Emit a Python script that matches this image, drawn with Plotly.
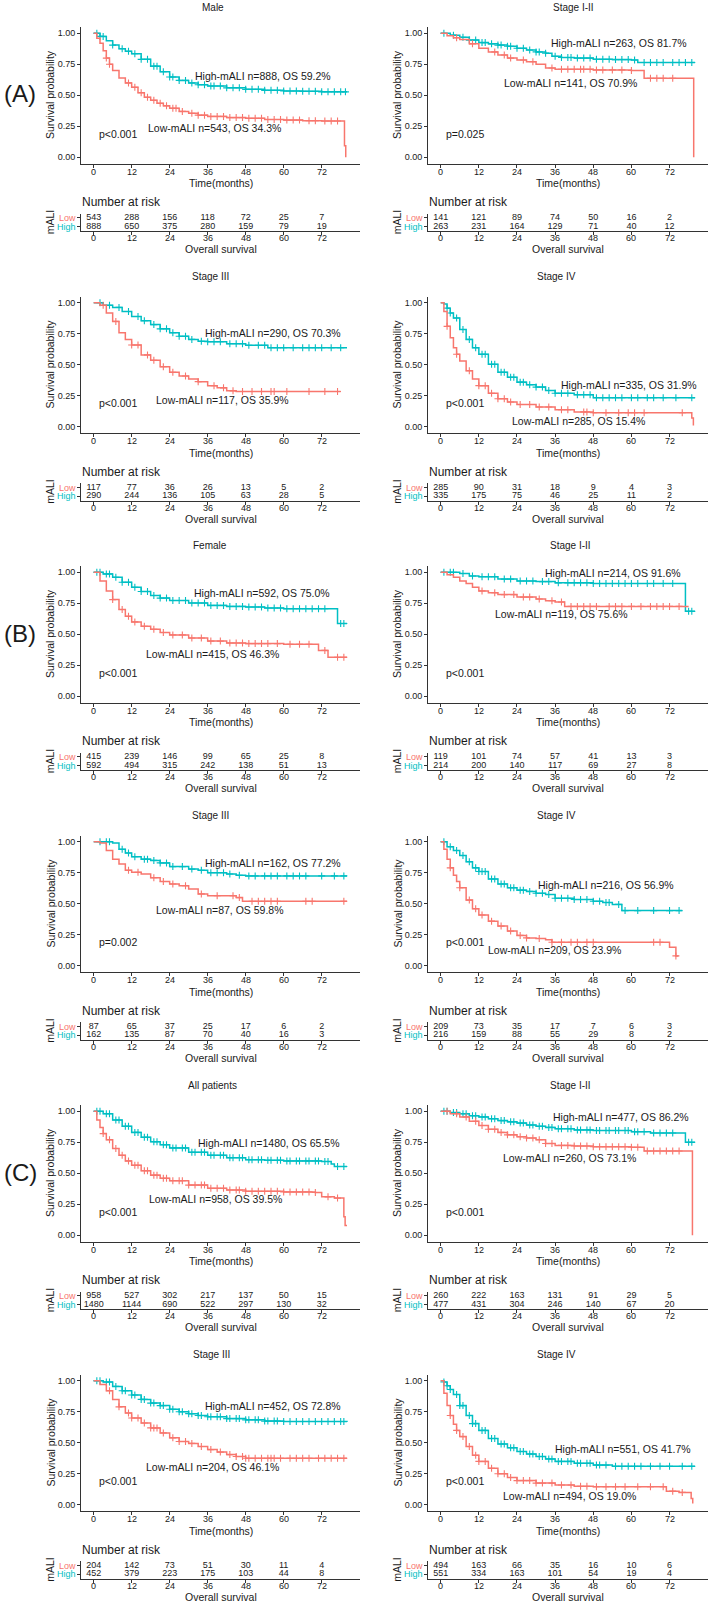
import plotly.graph_objects as go

W, H = 709, 1604
ROW_H = 269.5
RED = '#F8766D'
TEAL = '#00BFC4'
TXT = '#1a1a1a'
FONT = 'Liberation Sans, Arial, sans-serif'
XR = [-4.0, 84.1]
TICK_T = [0, 12, 24, 36, 48, 60, 72]
Y_TICKS = [0, 0.25, 0.5, 0.75, 1.0]
Y_TICKTEXT = ['0.00', '0.25', '0.50', '0.75', '1.00']

# ---------------- (A) Male ----------------
male_high_t = [0, 2, 4, 6, 8, 10, 12, 15, 18, 21, 24, 27, 30, 33, 36, 42, 48, 54, 60, 66, 72, 80]
male_high_s = [1.0, 0.975, 0.94, 0.905, 0.875, 0.855, 0.835, 0.79, 0.735, 0.69, 0.648, 0.62, 0.60, 0.585, 0.575, 0.56, 0.548, 0.54, 0.535, 0.532, 0.528, 0.528]
male_high_c = [1, 2, 3, 6, 9, 11, 13, 15, 17, 19, 20, 22, 24, 25, 27, 29, 31, 33, 35, 37, 38, 40, 42, 44, 46, 48, 50, 52, 54, 56, 58, 60, 62, 64, 66, 68, 70, 72, 74, 76, 78, 79.5]
male_low_t = [0, 1, 2, 3, 4, 5, 6, 8, 10, 12, 14, 16, 18, 20, 22, 24, 27, 30, 33, 36, 42, 48, 54, 60, 66, 72, 79.2, 79.6]
male_low_s = [1.0, 0.96, 0.92, 0.86, 0.80, 0.75, 0.70, 0.64, 0.60, 0.565, 0.52, 0.484, 0.46, 0.435, 0.415, 0.395, 0.37, 0.355, 0.34, 0.33, 0.32, 0.315, 0.305, 0.30, 0.295, 0.293, 0.094, 0.0]
male_low_c = [4, 5, 11, 13, 15, 17, 19, 21, 23, 25, 26, 28, 31, 33, 35, 37, 39, 41, 43, 45, 47, 49, 51, 53, 55, 57, 59, 61, 63, 65, 68, 70, 73, 75, 77]
male_risk_low = [543, 288, 156, 118, 72, 25, 7]
male_risk_high = [888, 650, 375, 280, 159, 79, 19]

# ---------------- (A) Stage I-II ----------------
s12a_high_t = [0, 3, 6, 9, 12, 15, 18, 21, 24, 27, 30, 33, 35, 38, 42, 48, 54, 60, 62, 72, 80]
s12a_high_s = [1.0, 0.985, 0.968, 0.945, 0.925, 0.915, 0.905, 0.895, 0.88, 0.865, 0.85, 0.84, 0.815, 0.805, 0.80, 0.79, 0.788, 0.785, 0.765, 0.765, 0.765]
s12a_high_c = [1, 4, 7, 9, 11, 13, 14, 16, 18, 19, 21, 22, 24, 26, 28, 30, 31, 33, 36, 38, 40, 41, 43, 45, 47, 49, 51, 53, 55, 57, 59, 61, 64, 66, 68, 70, 73, 75, 77, 79]
s12a_low_t = [0, 2, 4, 6, 9, 12, 15, 18, 21, 24, 27, 30, 33, 36, 48, 60, 64, 79.6]
s12a_low_s = [1.0, 0.98, 0.965, 0.95, 0.915, 0.88, 0.85, 0.825, 0.80, 0.785, 0.77, 0.75, 0.72, 0.71, 0.705, 0.70, 0.637, 0.0]
s12a_low_c = [5, 10, 17, 20, 22, 26, 29, 35, 38, 40, 42, 44, 45, 47, 49, 51, 54, 57, 60, 66, 68, 70, 73]
s12a_risk_low = [141, 121, 89, 74, 50, 16, 2]
s12a_risk_high = [263, 231, 164, 129, 71, 40, 12]

# ---------------- (A) Stage III ----------------
s3a_high_t = [0, 3, 6, 9, 12, 15, 18, 21, 24, 27, 30, 33, 36, 42, 48, 55, 80]
s3a_high_s = [1.0, 0.98, 0.963, 0.93, 0.89, 0.855, 0.824, 0.79, 0.758, 0.73, 0.705, 0.69, 0.686, 0.67, 0.657, 0.638, 0.638]
s3a_high_c = [2, 5, 8, 11, 14, 16, 19, 21, 23, 25, 27, 29, 31, 34, 36, 38, 40, 43, 45, 47, 49, 52, 54, 56, 58, 60, 63, 66, 68, 70, 72, 75, 78]
s3a_low_t = [0, 2, 4, 6, 8, 10, 12, 15, 18, 21, 24, 27, 30, 33, 36, 39, 42, 45, 78]
s3a_low_s = [1.0, 0.98, 0.918, 0.85, 0.758, 0.705, 0.66, 0.58, 0.537, 0.484, 0.44, 0.41, 0.386, 0.364, 0.332, 0.314, 0.29, 0.285, 0.285]
s3a_low_c = [3, 7, 12, 14, 17, 19, 22, 25, 29, 33, 38, 41, 44, 47, 50, 53, 56, 57, 61, 68, 73, 77]
s3a_risk_low = [117, 77, 36, 26, 13, 5, 2]
s3a_risk_high = [290, 244, 136, 105, 63, 28, 5]

# ---------------- (A) Stage IV ----------------
s4a_high_t = [0, 1, 2, 3, 4, 6, 8, 10, 12, 15, 18, 21, 24, 27, 30, 33, 36, 42, 48, 80]
s4a_high_s = [1.0, 0.99, 0.957, 0.918, 0.878, 0.785, 0.705, 0.638, 0.585, 0.505, 0.44, 0.40, 0.36, 0.34, 0.32, 0.293, 0.27, 0.258, 0.234, 0.234]
s4a_high_c = [2, 3, 5, 7, 9, 11, 13, 14, 16, 17, 19, 20, 22, 23, 25, 26, 28, 30, 32, 34, 36, 38, 40, 43, 45, 47, 49, 51, 53, 55, 57, 60, 62, 65, 67, 70, 74, 79]
s4a_low_t = [0, 1, 2, 3, 4, 5, 6, 8, 10, 12, 15, 18, 21, 24, 30, 36, 42, 48, 79.0, 79.5]
s4a_low_s = [1.0, 0.93, 0.81, 0.718, 0.638, 0.585, 0.53, 0.452, 0.386, 0.332, 0.27, 0.226, 0.20, 0.18, 0.16, 0.138, 0.12, 0.114, 0.07, 0.01]
s4a_low_c = [2, 5, 9, 12, 14, 16, 18, 20, 22, 25, 28, 31, 34, 38, 40, 45, 46, 48, 52, 56, 59, 61, 64, 76]
s4a_risk_low = [285, 90, 31, 18, 9, 4, 3]
s4a_risk_high = [335, 175, 75, 46, 25, 11, 2]

# ---------------- (B) Female ----------------
fem_high_t = [0, 3, 6, 9, 12, 15, 18, 21, 24, 30, 36, 42, 48, 54, 60, 77, 80]
fem_high_s = [1.0, 0.987, 0.96, 0.92, 0.88, 0.845, 0.813, 0.792, 0.773, 0.752, 0.733, 0.725, 0.72, 0.712, 0.707, 0.587, 0.587]
fem_high_c = [1, 2, 4, 5, 7, 9, 11, 13, 15, 17, 19, 21, 23, 25, 27, 29, 31, 33, 35, 37, 39, 41, 43, 45, 47, 49, 51, 53, 55, 57, 59, 61, 63, 65, 67, 69, 71, 73, 78, 79]
fem_low_t = [0, 2, 4, 6, 8, 10, 12, 15, 18, 21, 24, 30, 36, 42, 48, 60, 71, 74, 80]
fem_low_s = [1.0, 0.93, 0.85, 0.78, 0.70, 0.645, 0.60, 0.565, 0.54, 0.515, 0.495, 0.47, 0.445, 0.43, 0.425, 0.42, 0.37, 0.315, 0.315]
fem_low_c = [6, 9, 11, 13, 16, 19, 22, 25, 28, 31, 34, 37, 40, 43, 45, 47, 49, 51, 53, 55, 58, 62, 65, 68, 73, 77, 79]
fem_risk_low = [415, 239, 146, 99, 65, 25, 8]
fem_risk_high = [592, 494, 315, 242, 138, 51, 13]

# ---------------- (B) Stage I-II ----------------
s12b_high_t = [0, 6, 9, 12, 18, 24, 30, 36, 48, 77, 80]
s12b_high_s = [1.0, 0.99, 0.97, 0.965, 0.945, 0.93, 0.925, 0.915, 0.91, 0.685, 0.685]
s12b_high_c = [1, 3, 4, 7, 10, 13, 15, 17, 20, 22, 25, 27, 29, 32, 34, 37, 40, 42, 44, 46, 48, 50, 52, 54, 56, 58, 60, 62, 65, 67, 70, 73, 78, 79]
s12b_low_t = [0, 2, 4, 6, 8, 10, 12, 15, 18, 24, 30, 33, 36, 39, 78]
s12b_low_s = [1.0, 0.98, 0.96, 0.93, 0.91, 0.88, 0.85, 0.835, 0.82, 0.80, 0.785, 0.77, 0.76, 0.725, 0.725]
s12b_low_c = [13, 17, 20, 23, 26, 28, 31, 35, 38, 41, 43, 45, 47, 49, 53, 55, 57, 60, 63, 66, 68, 70, 72, 75]
s12b_risk_low = [119, 101, 74, 57, 41, 13, 3]
s12b_risk_high = [214, 200, 140, 117, 69, 27, 8]

# ---------------- (B) Stage III ----------------
s3b_high_t = [0, 6, 8, 10, 12, 15, 18, 21, 24, 30, 33, 36, 42, 45, 48, 80]
s3b_high_s = [1.0, 0.99, 0.94, 0.91, 0.88, 0.86, 0.85, 0.83, 0.80, 0.78, 0.77, 0.75, 0.74, 0.73, 0.725, 0.725]
s3b_high_c = [2, 4, 5, 9, 11, 13, 16, 17, 19, 21, 23, 25, 28, 31, 34, 37, 39, 41, 43, 46, 49, 51, 54, 56, 58, 61, 63, 65, 67, 72, 76, 79]
s3b_low_t = [0, 2, 4, 6, 8, 10, 12, 15, 18, 21, 24, 27, 30, 33, 36, 45, 47, 80]
s3b_low_s = [1.0, 0.99, 0.93, 0.86, 0.82, 0.77, 0.755, 0.74, 0.71, 0.68, 0.66, 0.645, 0.62, 0.58, 0.565, 0.55, 0.52, 0.52]
s3b_low_c = [11, 14, 19, 22, 25, 29, 34, 39, 44, 46, 50, 52, 54, 56, 58, 67, 69, 79]
s3b_risk_low = [87, 65, 37, 25, 17, 6, 2]
s3b_risk_high = [162, 135, 87, 70, 40, 16, 3]

# ---------------- (B) Stage IV ----------------
s4b_high_t = [0, 2, 4, 6, 8, 10, 12, 15, 18, 21, 24, 27, 30, 33, 36, 42, 48, 51, 54, 57, 76]
s4b_high_s = [1.0, 0.96, 0.93, 0.89, 0.84, 0.79, 0.76, 0.70, 0.66, 0.63, 0.61, 0.60, 0.585, 0.575, 0.545, 0.535, 0.52, 0.51, 0.495, 0.445, 0.445]
s4b_high_c = [1, 3, 5, 7, 9, 11, 12, 13, 14, 16, 17, 19, 20, 22, 23, 25, 26, 28, 30, 32, 34, 36, 38, 40, 42, 44, 46, 48, 50, 52, 53, 56, 58, 62, 67, 72, 75]
s4b_low_t = [0, 1, 2, 3, 4, 5, 6, 8, 10, 12, 15, 18, 21, 24, 27, 30, 33, 35, 72, 74, 74.8]
s4b_low_s = [1.0, 0.94, 0.86, 0.79, 0.73, 0.68, 0.63, 0.53, 0.46, 0.41, 0.36, 0.32, 0.28, 0.245, 0.225, 0.22, 0.21, 0.19, 0.15, 0.08, 0.08]
s4b_low_c = [3, 6, 9, 11, 13, 16, 19, 22, 25, 27, 31, 35, 38, 41, 43, 46, 48, 67, 69, 74]
s4b_risk_low = [209, 73, 35, 17, 7, 6, 3]
s4b_risk_high = [216, 159, 88, 55, 29, 8, 2]

# ---------------- (C) All patients ----------------
all_high_t = [0, 3, 6, 9, 12, 15, 18, 21, 24, 30, 36, 42, 48, 54, 60, 72, 75, 76, 80]
all_high_s = [1.0, 0.98, 0.93, 0.88, 0.83, 0.79, 0.755, 0.73, 0.705, 0.67, 0.645, 0.625, 0.61, 0.605, 0.60, 0.595, 0.575, 0.555, 0.555]
all_high_c = [1, 2, 4, 5, 7, 8, 10, 11, 13, 14, 16, 17, 19, 20, 22, 23, 25, 26, 28, 29, 31, 32, 34, 35, 37, 38, 40, 41, 43, 44, 46, 47, 49, 50, 52, 53, 55, 56, 58, 59, 61, 62, 64, 65, 67, 68, 70, 71, 73, 74, 77, 79]
all_low_t = [0, 1, 2, 3, 4, 6, 8, 10, 12, 15, 18, 21, 24, 30, 36, 42, 48, 60, 70, 72, 76, 79.0, 79.4, 80]
all_low_s = [1.0, 0.93, 0.87, 0.82, 0.77, 0.70, 0.645, 0.60, 0.565, 0.52, 0.485, 0.46, 0.44, 0.405, 0.38, 0.365, 0.355, 0.35, 0.345, 0.31, 0.30, 0.15, 0.08, 0.08]
all_low_c = [3, 5, 7, 9, 11, 13, 14, 16, 17, 19, 20, 22, 23, 25, 27, 28, 30, 32, 34, 35, 37, 39, 41, 43, 45, 46, 48, 50, 52, 54, 56, 58, 60, 62, 64, 66, 68, 70, 74, 77]
all_risk_low = [958, 527, 302, 217, 137, 50, 15]
all_risk_high = [1480, 1144, 690, 522, 297, 130, 32]

# ---------------- (C) Stage I-II ----------------
s12c_high_t = [0, 3, 6, 9, 12, 15, 18, 21, 24, 27, 30, 33, 36, 42, 48, 60, 66, 77, 80]
s12c_high_s = [1.0, 0.99, 0.98, 0.965, 0.955, 0.94, 0.925, 0.915, 0.905, 0.89, 0.88, 0.87, 0.86, 0.85, 0.845, 0.835, 0.825, 0.75, 0.75]
s12c_high_c = [1, 2, 4, 5, 7, 8, 10, 11, 13, 14, 16, 17, 19, 20, 22, 23, 25, 26, 28, 29, 31, 32, 34, 35, 37, 38, 40, 41, 43, 44, 46, 47, 49, 50, 52, 53, 55, 56, 58, 59, 61, 62, 64, 67, 69, 71, 73, 78, 79]
s12c_low_t = [0, 3, 6, 9, 12, 15, 18, 21, 24, 27, 30, 33, 36, 42, 48, 60, 64, 79.2]
s12c_low_s = [1.0, 0.98, 0.955, 0.92, 0.885, 0.855, 0.83, 0.81, 0.795, 0.785, 0.77, 0.74, 0.725, 0.72, 0.715, 0.71, 0.68, 0.0]
s12c_low_c = [2, 5, 8, 11, 13, 15, 17, 19, 21, 23, 25, 27, 29, 31, 33, 35, 38, 40, 42, 44, 46, 48, 50, 52, 54, 56, 58, 60, 62, 65, 67, 69, 71, 73, 75]
s12c_risk_low = [260, 222, 163, 131, 91, 29, 5]
s12c_risk_high = [477, 431, 304, 246, 140, 67, 20]

# ---------------- (C) Stage III ----------------
s3c_high_t = [0, 3, 6, 9, 12, 15, 18, 21, 24, 27, 30, 33, 36, 42, 48, 54, 60, 80]
s3c_high_s = [1.0, 0.99, 0.955, 0.92, 0.885, 0.85, 0.82, 0.80, 0.77, 0.75, 0.735, 0.72, 0.71, 0.695, 0.685, 0.675, 0.672, 0.67]
s3c_high_c = [1, 2, 4, 5, 7, 9, 10, 12, 13, 15, 16, 18, 19, 21, 22, 24, 25, 27, 28, 30, 31, 33, 34, 36, 37, 39, 40, 42, 43, 45, 46, 48, 49, 51, 52, 54, 55, 57, 58, 60, 62, 64, 66, 68, 70, 72, 74, 76, 78, 79]
s3c_low_t = [0, 2, 4, 6, 8, 10, 12, 15, 18, 21, 24, 27, 30, 33, 36, 39, 42, 45, 48, 80]
s3c_low_s = [1.0, 0.97, 0.92, 0.85, 0.79, 0.74, 0.70, 0.66, 0.62, 0.58, 0.54, 0.51, 0.495, 0.47, 0.445, 0.425, 0.405, 0.39, 0.375, 0.375]
s3c_low_c = [5, 8, 11, 12, 14, 16, 18, 19, 20, 22, 25, 27, 29, 31, 34, 37, 40, 43, 45, 47, 48, 49, 51, 53, 55, 56, 57, 59, 62, 64, 66, 68, 71, 73, 75, 77, 79]
s3c_risk_low = [204, 142, 73, 51, 30, 11, 4]
s3c_risk_high = [452, 379, 223, 175, 103, 44, 8]

# ---------------- (C) Stage IV ----------------
s4c_high_t = [0, 1, 2, 3, 4, 6, 8, 10, 12, 15, 18, 21, 24, 27, 30, 33, 36, 42, 48, 54, 80]
s4c_high_s = [1.0, 0.99, 0.96, 0.93, 0.89, 0.80, 0.72, 0.655, 0.60, 0.535, 0.49, 0.46, 0.43, 0.41, 0.39, 0.37, 0.35, 0.335, 0.32, 0.31, 0.31]
s4c_high_c = [1, 2, 3, 5, 6, 7, 9, 10, 11, 13, 14, 16, 17, 19, 20, 22, 23, 25, 26, 28, 29, 31, 32, 34, 35, 37, 38, 40, 41, 43, 44, 46, 47, 49, 50, 52, 55, 57, 59, 61, 63, 66, 69, 72, 76, 79]
s4c_low_t = [0, 1, 2, 3, 4, 5, 6, 8, 10, 12, 15, 18, 21, 24, 30, 36, 42, 48, 60, 71, 75, 78.8, 79.3]
s4c_low_s = [1.0, 0.90, 0.80, 0.72, 0.65, 0.60, 0.55, 0.47, 0.40, 0.35, 0.295, 0.25, 0.22, 0.195, 0.175, 0.16, 0.15, 0.145, 0.145, 0.11, 0.10, 0.05, 0.01]
s4c_low_c = [3, 5, 7, 9, 11, 12, 14, 16, 18, 20, 22, 24, 26, 28, 30, 32, 35, 38, 41, 44, 46, 49, 52, 55, 58, 62, 66, 70, 73, 76]
s4c_risk_low = [494, 163, 66, 35, 16, 10, 6]
s4c_risk_high = [551, 334, 163, 101, 54, 19, 4]

# ---------------- panel texts ----------------
panel_titles = ['Male', 'Stage I-II', 'Stage III', 'Stage IV',
                'Female', 'Stage I-II', 'Stage III', 'Stage IV',
                'All patients', 'Stage I-II', 'Stage III', 'Stage IV']
high_labels = ['High-mALI n=888, OS 59.2%', 'High-mALI n=263, OS 81.7%',
               'High-mALI n=290, OS 70.3%', 'High-mALI n=335, OS 31.9%',
               'High-mALI n=592, OS 75.0%', 'High-mALI n=214, OS 91.6%',
               'High-mALI n=162, OS 77.2%', 'High-mALI n=216, OS 56.9%',
               'High-mALI n=1480, OS 65.5%', 'High-mALI n=477, OS 86.2%',
               'High-mALI n=452, OS 72.8%', 'High-mALI n=551, OS 41.7%']
low_labels = ['Low-mALI n=543, OS 34.3%', 'Low-mALI n=141, OS 70.9%',
              'Low-mALI n=117, OS 35.9%', 'Low-mALI n=285, OS 15.4%',
              'Low-mALI n=415, OS 46.3%', 'Low-mALI n=119, OS 75.6%',
              'Low-mALI n=87, OS 59.8%', 'Low-mALI n=209, OS 23.9%',
              'Low-mALI n=958, OS 39.5%', 'Low-mALI n=260, OS 73.1%',
              'Low-mALI n=204, OS 46.1%', 'Low-mALI n=494, OS 19.0%']
p_labels = ['p<0.001', 'p=0.025', 'p<0.001', 'p<0.001',
            'p<0.001', 'p<0.001', 'p=0.002', 'p<0.001',
            'p<0.001', 'p<0.001', 'p<0.001', 'p<0.001']
group_labels = ['(A)', '(B)', '(C)']

curves = [
    (male_low_t, male_low_s, male_low_c, male_high_t, male_high_s, male_high_c, male_risk_low, male_risk_high),
    (s12a_low_t, s12a_low_s, s12a_low_c, s12a_high_t, s12a_high_s, s12a_high_c, s12a_risk_low, s12a_risk_high),
    (s3a_low_t, s3a_low_s, s3a_low_c, s3a_high_t, s3a_high_s, s3a_high_c, s3a_risk_low, s3a_risk_high),
    (s4a_low_t, s4a_low_s, s4a_low_c, s4a_high_t, s4a_high_s, s4a_high_c, s4a_risk_low, s4a_risk_high),
    (fem_low_t, fem_low_s, fem_low_c, fem_high_t, fem_high_s, fem_high_c, fem_risk_low, fem_risk_high),
    (s12b_low_t, s12b_low_s, s12b_low_c, s12b_high_t, s12b_high_s, s12b_high_c, s12b_risk_low, s12b_risk_high),
    (s3b_low_t, s3b_low_s, s3b_low_c, s3b_high_t, s3b_high_s, s3b_high_c, s3b_risk_low, s3b_risk_high),
    (s4b_low_t, s4b_low_s, s4b_low_c, s4b_high_t, s4b_high_s, s4b_high_c, s4b_risk_low, s4b_risk_high),
    (all_low_t, all_low_s, all_low_c, all_high_t, all_high_s, all_high_c, all_risk_low, all_risk_high),
    (s12c_low_t, s12c_low_s, s12c_low_c, s12c_high_t, s12c_high_s, s12c_high_c, s12c_risk_low, s12c_risk_high),
    (s3c_low_t, s3c_low_s, s3c_low_c, s3c_high_t, s3c_high_s, s3c_high_c, s3c_risk_low, s3c_risk_high),
    (s4c_low_t, s4c_low_s, s4c_low_c, s4c_high_t, s4c_high_s, s4c_high_c, s4c_risk_low, s4c_risk_high),
]

# ---------------- layout geometry (pixels) ----------------
title_x = [213, 573, 210, 556, 210, 570, 210, 556, 213, 570, 211, 556]
high_pos = [(31.6, 0.656), (34.4, 0.919), (34.9, 0.753), (37.4, 0.34),
            (31.4, 0.835), (32.4, 0.995), (34.9, 0.829), (30.2, 0.65),
            (32.7, 0.746), (35.0, 0.952), (34.9, 0.80), (35.7, 0.453)]
low_pos = [(16.9, 0.239), (19.5, 0.597), (19.3, 0.218), (22.0, 0.048),
           (16.1, 0.341), (16.8, 0.661), (19.3, 0.447), (14.7, 0.126),
           (17.1, 0.291), (19.4, 0.626), (16.1, 0.304), (19.3, 0.07)]
COLS = [dict(x0=81, x1=360, lab=50), dict(x0=428, x1=708, lab=397)]

KM_TOP, KM_BOT = 27.1, 163.5
RT_TOP, RT_BOT = 213.5, 231.0
KM_TICK_Y = 171.7
RT_TICK_Y = 238.3

F_TICK = 9
F_RISK = 9
F_AXT = 10.5
F_NAR = 12
F_TITLE = 10
F_INPLOT = 10.5
F_GROUP = 24


def py(p):
    return 1 - p / H


def px(p):
    return p / W


def surv_at(ts, ss, c):
    v = ss[0]
    for t, s in zip(ts, ss):
        if t <= c:
            v = s
    return v


fig = go.Figure()
annotations = []
layout = {}


def ann(text, x, y, size, color=TXT, xanchor='center', yanchor='middle', angle=0, xref='paper', yref='paper'):
    annotations.append(dict(text=text, x=x, y=y, xref=xref, yref=yref, showarrow=False,
                            font=dict(size=size, color=color, family=FONT), borderpad=0,
                            xanchor=xanchor, yanchor=yanchor, textangle=angle))


for i in range(12):
    row, col = divmod(i, 2)
    base = row * ROW_H
    c = COLS[col]
    lt, ls, lc, ht, hs, hc, rl, rh = curves[i]
    ka = 2 * i + 1
    ra = 2 * i + 2
    kx = 'x' if ka == 1 else f'x{ka}'
    ky = 'y' if ka == 1 else f'y{ka}'
    rx, ry = f'x{ra}', f'y{ra}'

    # KM curves
    for ts, ss, cs, color in [(ht, hs, hc, TEAL), (lt, ls, lc, RED)]:
        fig.add_trace(go.Scatter(x=ts, y=ss, mode='lines', line=dict(color=color, width=1.5, shape='hv'),
                                 xaxis=kx, yaxis=ky, hoverinfo='skip', showlegend=False))
        fig.add_trace(go.Scatter(x=cs, y=[surv_at(ts, ss, t) for t in cs], mode='markers',
                                 marker=dict(symbol='cross-thin', size=5, line=dict(color=color, width=1.1)),
                                 xaxis=kx, yaxis=ky, hoverinfo='skip', showlegend=False))
    # risk table
    for vals, yy in [(rl, 2), (rh, 1)]:
        fig.add_trace(go.Scatter(x=TICK_T, y=[yy] * 7, mode='text', text=[str(v) for v in vals],
                                 textfont=dict(size=F_RISK, color=TXT, family=FONT), textposition='middle center',
                                 xaxis=rx, yaxis=ry, hoverinfo='skip', showlegend=False, cliponaxis=False))

    common = dict(showline=True, linecolor='#333333', linewidth=1, ticks='outside', ticklen=3,
                  tickcolor='#333333', tickwidth=1, showgrid=False, zeroline=False,
                  tickfont=dict(size=F_TICK, color=TXT, family=FONT))
    blank = [''] * len(TICK_T)
    xd = [px(c['x0']), px(c['x1'])]
    kxname = 'xaxis' if ka == 1 else f'xaxis{ka}'
    kyname = 'yaxis' if ka == 1 else f'yaxis{ka}'
    layout[kxname] = dict(common, domain=xd, range=XR, tickvals=TICK_T, ticktext=blank, anchor=ky)
    layout[kyname] = dict(common, domain=[py(base + KM_BOT), py(base + KM_TOP)], range=[-0.05, 1.05],
                          tickvals=Y_TICKS, ticktext=Y_TICKTEXT, anchor=kx)
    layout[f'xaxis{ra}'] = dict(common, domain=xd, range=XR, tickvals=TICK_T, ticktext=blank, anchor=ry)
    layout[f'yaxis{ra}'] = dict(common, domain=[py(base + RT_BOT), py(base + RT_TOP)], range=[0.5, 2.5],
                                tickvals=[1, 2], ticktext=['', ''], anchor=rx)

    # x tick labels, placed exactly under each tick
    for t in TICK_T:
        ann(str(t), t, py(base + KM_TICK_Y), F_TICK, xref=kx)
        ann(str(t), t, py(base + RT_TICK_Y), F_TICK, xref=rx)

    cx = (c['x0'] + c['x1']) / 2
    ann(panel_titles[i], px(title_x[i]), py(base + 7), F_TITLE)
    ann('Time(months)', px(cx), py(base + 183), F_AXT)
    ann('Survival probability', px(c['lab']), py(base + 95), F_AXT, angle=-90)
    ann('Number at risk', px(c['x0']), py(base + 202.3), F_NAR, xanchor='left')
    ann('Overall survival', px(cx), py(base + 249.3), F_AXT)
    ann('mALI', px(c['lab']), py(base + 222.3), F_AXT, angle=-90)
    ann('Low', px(c['x0'] - 4), py(base + 218.2), F_RISK, color=RED, xanchor='right')
    ann('High', px(c['x0'] - 4), py(base + 226.8), F_RISK, color=TEAL, xanchor='right')
    # in-plot texts (data coordinates)
    ann(high_labels[i], high_pos[i][0], high_pos[i][1], F_INPLOT, xanchor='left', xref=kx, yref=ky)
    ann(low_labels[i], low_pos[i][0], low_pos[i][1], F_INPLOT, xanchor='left', xref=kx, yref=ky)
    ann(p_labels[i], 1.5, 0.19, F_INPLOT, xanchor='left', xref=kx, yref=ky)

for g, lab in enumerate(group_labels):
    ann(lab, px(20), py(2 * g * ROW_H + 94), F_GROUP)

fig.update_layout(width=W, height=H, margin=dict(l=0, r=0, t=0, b=0),
                  paper_bgcolor='white', plot_bgcolor='white', showlegend=False,
                  hovermode=False, annotations=annotations, font=dict(family=FONT, color=TXT),
                  **layout)
fig.write_html('out.html', config={'displayModeBar': False},
               post_script="document.body.style.margin='0px';document.body.style.overflow='hidden';")
